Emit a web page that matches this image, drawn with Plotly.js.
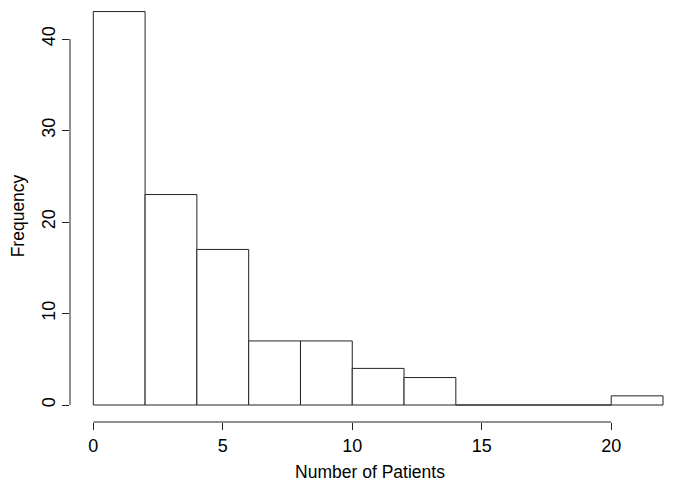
<!DOCTYPE html>
<html>
<head>
<meta charset="utf-8">
<script src="https://cdn.plot.ly/plotly-3.0.1.min.js"></script>
<style>html,body{margin:0;padding:0;background:#fff;}#chart{width:676px;height:488px;}</style>
</head>
<body>
<div id="chart"></div>
<script>
const binStarts = [0, 2, 4, 6, 8, 10, 12, 14, 16, 18, 20];
const binWidth = 2;
const counts = [43, 23, 17, 7, 7, 4, 3, 0, 0, 0, 1];
const xTicks = [0, 5, 10, 15, 20];
const yTicks = [0, 10, 20, 30, 40];

const centers = binStarts.map(s => s + binWidth / 2);
const font = {family: 'Liberation Sans, Arial, sans-serif', size: 17.5, color: '#000'};
const tickFont = {family: 'Liberation Sans, Arial, sans-serif', size: 18, color: '#000'};

const trace = {
  type: 'bar',
  x: centers,
  y: counts,
  width: binStarts.map(() => binWidth),
  marker: {color: '#ffffff', line: {color: '#222', width: 1}},
  hoverinfo: 'skip'
};

const layout = {
  width: 676, height: 488,
  margin: {l: 70, r: 6, t: 10, b: 66},
  paper_bgcolor: '#fff', plot_bgcolor: '#fff',
  showlegend: false,
  font: font,
  xaxis: {
    range: [-0.9, 22.27],
    tickvals: xTicks, ticktext: xTicks.map(String),
    ticks: 'outside', ticklen: 7, tickwidth: 1, tickcolor: '#222',
    showgrid: false, zeroline: false, showline: false,
    tickfont: tickFont,
    title: {text: 'Number of Patients', font: font, standoff: 11}
  },
  yaxis: {
    range: [-1.858, 43.17],
    tickvals: yTicks, ticktext: yTicks.map(String),
    ticks: 'outside', ticklen: 7, tickwidth: 1, tickcolor: '#222',
    tickangle: -90,
    showgrid: false, zeroline: false, showline: false,
    tickfont: tickFont,
    title: {text: 'Frequency', font: font, standoff: 9}
  },
  shapes: [
    {type: 'line', xref: 'x', yref: 'paper', x0: xTicks[0], x1: xTicks[xTicks.length - 1], y0: 0, y1: 0, line: {color: '#222', width: 1}},
    {type: 'line', xref: 'paper', yref: 'y', x0: 0, x1: 0, y0: yTicks[0], y1: yTicks[yTicks.length - 1], line: {color: '#222', width: 1}}
  ]
};

Plotly.newPlot('chart', [trace], layout, {displayModeBar: false, staticPlot: true});
</script>
</body>
</html>
